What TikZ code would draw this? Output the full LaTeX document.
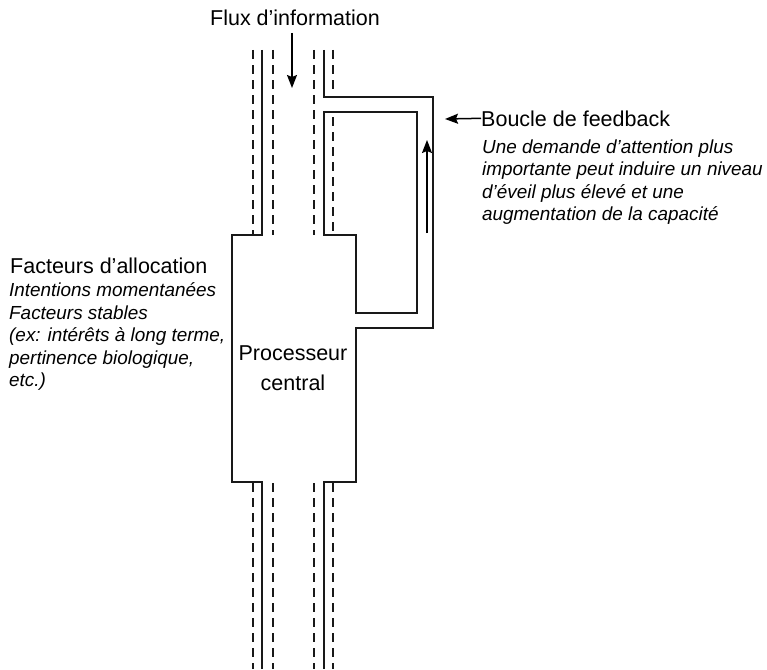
\documentclass[tikz,border=0pt]{standalone}
\usepackage{fontspec}
\setmainfont{Liberation Sans}
\usetikzlibrary{arrows.meta}
\begin{document}
\begin{tikzpicture}[x=1pt,y=-1pt,
  wall/.style={line width=1.9pt, line join=miter, draw=black!90},
  dashline/.style={line width=2pt, dash pattern=on 9pt off 6pt, draw=black!90},
  arr/.style={line width=1.5pt, -{Stealth[length=13pt,width=10pt,inset=2pt]}},
  mainlbl/.style={font=\fontsize{21.5}{26}\selectfont, inner sep=0pt, anchor=base west},
  desc/.style={font=\fontsize{18.9}{22.5}\selectfont\itshape, inner sep=0pt, anchor=base west, align=left},
]
\useasboundingbox (0,0) rectangle (767,669);
% left wall and box
\draw[wall] (262,50) -- (262,235) -- (232,235) -- (232,482) -- (262,482) -- (262,669);
% right wall with outer feedback loop
\draw[wall] (324,50) -- (324,97) -- (433,97) -- (433,328) -- (356,328) -- (356,482) -- (324,482) -- (324,669);
% inner loop
\draw[wall] (324,112) -- (417,112) -- (417,313) -- (356,313) -- (356,235) -- (324,235) -- cycle;
% dashed lines top
\draw[dashline] (253,50) -- (253,235);
\draw[dashline] (273,50) -- (273,235);
\draw[dashline] (314,50) -- (314,235);
\draw[dashline] (333,50) -- (333,92);
\draw[dashline] (333,117) -- (333,235);
% dashed lines bottom
\draw[dashline] (253,483) -- (253,669);
\draw[dashline] (273,483) -- (273,669);
\draw[dashline] (314,483) -- (314,669);
\draw[dashline] (333,483) -- (333,669);
% labels
\node[mainlbl, anchor=base] (flux) at (295,26) {Flux d’information};
\coordinate (fluxstart) at (292,33);
\coordinate (fluxend) at (292,88);
\draw[arr] (fluxstart) -- (fluxend);
\coordinate (upstart) at (427,233);
\coordinate (upend) at (427,140);
\draw[arr] (upstart) -- (upend);
\node[mainlbl] (boucle) at (481,126) {Boucle de feedback};
\coordinate (fbend) at (445,119);
\draw[arr] (boucle.west) -- (fbend);
% multi-line nodes: base anchor is the baseline of the last line
\node[desc] (boucledesc) at (482,220.5) {Une demande d’attention plus\\importante peut induire un niveau\\d’éveil plus élevé et une\\augmentation de la capacité};
\node[mainlbl] (alloc) at (10,273) {Facteurs d’allocation};
\node[desc] (allocdesc) at (9,386.5) {Intentions momentanées\\Facteurs stables\\(ex: intérêts à long terme,\\pertinence biologique,\\etc.)};
\node[font=\fontsize{21.5}{30}\selectfont, align=center, inner sep=0pt, anchor=base] (proc) at (293,390) {Processeur\\central};
\end{tikzpicture}
\end{document}
